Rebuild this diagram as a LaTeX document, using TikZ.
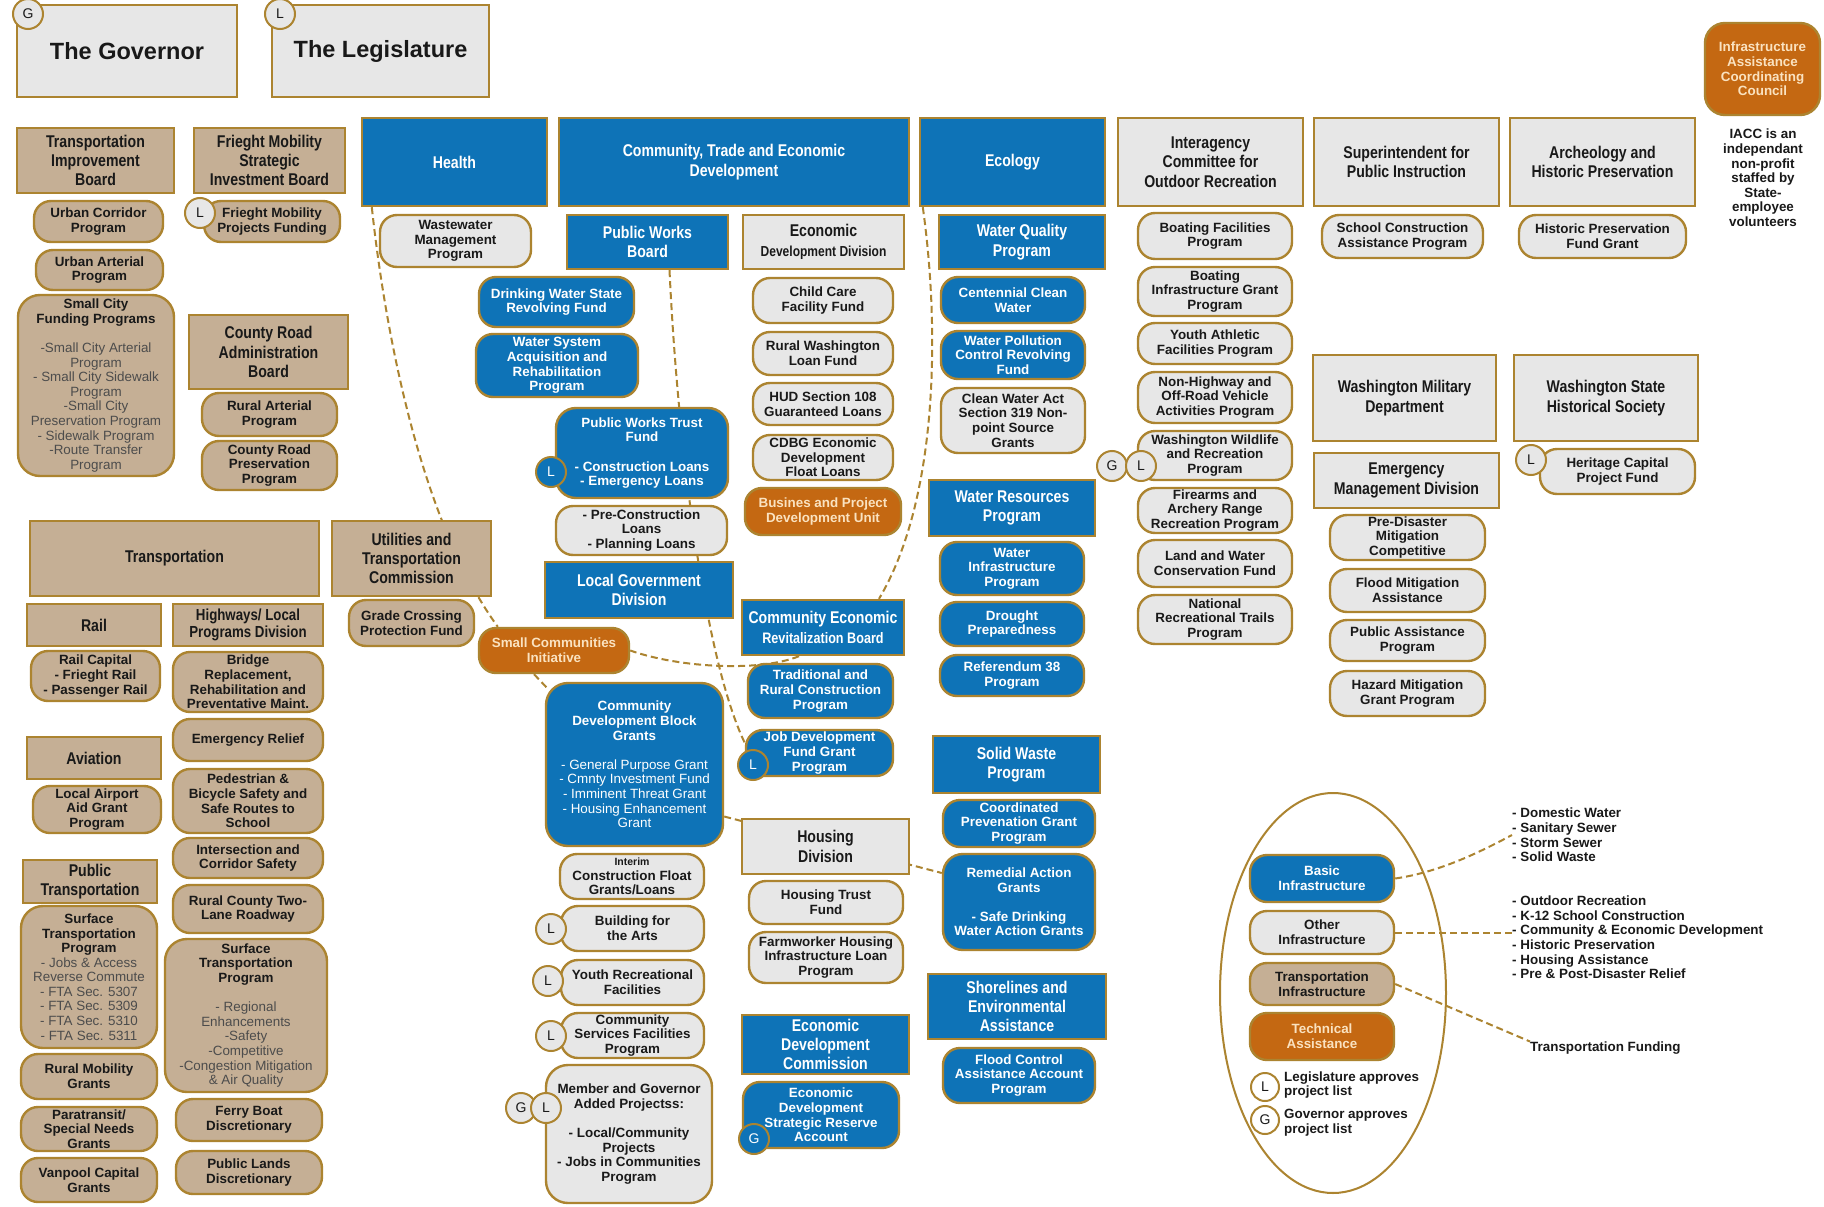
\documentclass[tikz,border=0pt]{standalone}
\usepackage{fontspec}
\setmainfont{Liberation Sans}
\newfontfamily\narrowsans{Liberation Sans}[FakeStretch=0.83]
\usetikzlibrary{backgrounds}
\definecolor{gold}{RGB}{172,132,48}
\definecolor{tan}{RGB}{197,175,149}
\definecolor{lgray}{RGB}{231,231,231}
\definecolor{wablue}{RGB}{14,115,183}
\definecolor{rust}{RGB}{196,104,18}
\definecolor{cream}{RGB}{250,226,192}
\newcommand{\hdrfont}{\narrowsans\bfseries\fontsize{17}{19.4}\selectfont}
\newcommand{\progfont}{\bfseries\fontsize{13.4}{14.6}\selectfont}
\newcommand{\itemfont}{\mdseries\fontsize{13.4}{14.6}\selectfont}
\newcommand{\bigfont}{\bfseries\fontsize{23.5}{26}\selectfont}
\newcommand{\ttl}[1]{{\bfseries\color{black!90}#1}}

\begin{document}
\begin{tikzpicture}[x=1pt, y=-1pt,
    box/.style={rectangle, draw=gold, line width=2.4pt, inner sep=0pt, align=center, text=black!90},
    hdr/.style={box, font=\hdrfont},
    tanhdr/.style={hdr, fill=tan},
    grayhdr/.style={hdr, fill=lgray},
    bluehdr/.style={hdr, fill=wablue, text=white},
    prog/.style={box, rounded corners=17pt, font=\progfont},
    tanprog/.style={prog, fill=tan},
    grayprog/.style={prog, fill=lgray},
    blueprog/.style={prog, fill=wablue, text=white},
    rustprog/.style={prog, fill=rust, text=cream},
    wh/.style 2 args={minimum width=#1pt, minimum height=#2pt},
    circ/.style={circle, draw=gold, fill=lgray, line width=2pt, minimum size=30pt, inner sep=0pt, text=black!90, font=\fontsize{14}{14}\selectfont},
    bcirc/.style={circ, fill=wablue, text=white},
    note/.style={font=\progfont, align=center, inner sep=0pt, text=black!90},
    link/.style={draw=gold, line width=2pt, dash pattern=on 7pt off 4pt}]
    \useasboundingbox (0,0) rectangle (1824,1207);

    % governor and legislature
    \node[grayhdr, wh={220}{92}, font=\bigfont] (gov) at (127,51) {The Governor};
    \node[grayhdr, wh={217}{92}, font=\bigfont] (leg) at (380.5,51) {The Legislature};
    \node[circ] (govG) at (28,14) {G};
    \node[circ] (legL) at (280,14) {L};

    % transportation boards
    \node[tanhdr, wh={157}{65}] (tib) at (95.5,160.5) {Transportation\\Improvement\\Board};
    \node[tanhdr, wh={151}{65}] (fmsib) at (269.5,160.5) {Frieght Mobility\\Strategic\\Investment Board};
    \node[tanprog, wh={129}{41}] (ucp) at (98.5,221.5) {Urban Corridor\\Program};
    \node[tanprog, wh={127}{40}] (uap) at (99.5,270) {Urban Arterial\\Program};
    \node[tanprog, wh={156}{181}, rounded corners=22pt, font=\itemfont, text=black!70] (scfp) at (96,385.5) {\ttl{Small City}\\\ttl{Funding Programs}\\[14.6pt]-Small City Arterial\\Program\\- Small City Sidewalk\\Program\\-Small City\\Preservation Program\\- Sidewalk Program\\-Route Transfer\\Program};
    \node[tanprog, wh={136}{41}] (fmpf) at (272,221.5) {Frieght Mobility\\Projects Funding};
    \node[circ] (fmpfL) at (200,213) {L};
    \node[tanhdr, wh={159}{74}] (crab) at (268.5,352) {County Road\\Administration\\Board};
    \node[tanprog, wh={135}{43}] (rap) at (269.5,414.5) {Rural Arterial\\Program};
    \node[tanprog, wh={135}{49}] (crpp) at (269.5,465.5) {County Road\\Preservation\\Program};

    % transportation
    \node[tanhdr, wh={289}{75}] (trans) at (174.5,558.5) {Transportation};
    \node[tanhdr, wh={159}{75}] (utc) at (411.5,558.5) {Utilities and\\Transportation\\Commission};
    \node[tanprog, wh={125}{46}] (gcpf) at (411.5,623) {Grade Crossing\\Protection Fund};
    \node[tanhdr, wh={134}{42}] (rail) at (94,625) {Rail};
    \node[tanhdr, wh={150}{42}, font=\narrowsans\bfseries\fontsize{16}{17.5}\selectfont] (hlpd) at (248,625) {Highways/ Local\\Programs Division};
    \node[tanprog, wh={129}{50}] (railcap) at (95.5,676) {Rail Capital\\- Frieght Rail\\- Passenger Rail};
    \node[tanprog, wh={150}{60}] (bridge) at (248,682) {Bridge\\Replacement,\\Rehabilitation and\\Preventative Maint.};
    \node[tanprog, wh={150}{42}] (er) at (248,740) {Emergency Relief};
    \node[tanhdr, wh={134}{42}] (aviation) at (94,758) {Aviation};
    \node[tanprog, wh={128}{47}] (laag) at (97,809.5) {Local Airport\\Aid Grant\\Program};
    \node[tanprog, wh={150}{64}] (pbss) at (248,801) {Pedestrian \&\\Bicycle Safety and\\Safe Routes to\\School};
    \node[tanprog, wh={150}{40}] (ics) at (248,858) {Intersection and\\Corridor Safety};
    \node[tanhdr, wh={134}{43}] (pubtrans) at (90,881.5) {Public\\Transportation};
    \node[tanprog, wh={136}{142}, rounded corners=22pt, font=\itemfont, text=black!70] (stp1) at (89,977) {\ttl{Surface}\\\ttl{Transportation}\\\ttl{Program}\\- Jobs \& Access\\Reverse Commute\\- FTA Sec. 5307\\- FTA Sec. 5309\\- FTA Sec. 5310\\- FTA Sec. 5311};
    \node[tanprog, wh={150}{48}] (rctl) at (248,909) {Rural County Two-\\Lane Roadway};
    \node[tanprog, wh={162}{153}, rounded corners=22pt, font=\itemfont, text=black!70] (stp2) at (246,1015.5) {\ttl{Surface}\\\ttl{Transportation}\\\ttl{Program}\\[14.6pt]- Regional\\Enhancements\\-Safety\\-Competitive\\-Congestion Mitigation\\\& Air Quality};
    \node[tanprog, wh={136}{45}] (rmg) at (89,1076.5) {Rural Mobility\\Grants};
    \node[tanprog, wh={146}{42}] (fbd) at (249,1120) {Ferry Boat\\Discretionary};
    \node[tanprog, wh={136}{44}] (psng) at (89,1129) {Paratransit/\\Special Needs\\Grants};
    \node[tanprog, wh={146}{43}] (pld) at (249,1172.5) {Public Lands\\Discretionary};
    \node[tanprog, wh={136}{44}] (vcg) at (89,1180) {Vanpool Capital\\Grants};

    % health
    \node[bluehdr, wh={185}{88}] (health) at (454.5,162) {Health};
    \node[grayprog, wh={151}{52}] (wmp) at (455.5,241) {Wastewater\\Management\\Program};

    % community, trade and economic development
    \node[bluehdr, wh={350}{88}] (cted) at (734,162) {Community, Trade and Economic\\Development};
    \node[bluehdr, wh={161}{54}] (pwb) at (647.5,242) {Public Works\\Board};
    \node[grayhdr, wh={161}{54}] (edd) at (823.5,242) {Economic\\{\fontsize{14.5}{17}\selectfont Development Division}};
    \node[blueprog, wh={155}{50}] (dwsrf) at (556.5,302) {Drinking Water State\\Revolving Fund};
    \node[blueprog, wh={162}{63}] (wsarp) at (557,365.5) {Water System\\Acquisition and\\Rehabilitation\\Program};
    \node[blueprog, wh={172}{90}, rounded corners=20pt] (pwtf) at (642,453) {Public Works Trust\\Fund\\[14.6pt]- Construction Loans\\- Emergency Loans};
    \node[bcirc] (pwtfL) at (551,472) {L};
    \node[grayprog, wh={171}{49}] (pcl) at (641.5,530.5) {- Pre-Construction\\Loans\\- Planning Loans};
    \node[bluehdr, wh={188}{56}] (lgd) at (639,590) {Local Government\\Division};
    \node[rustprog, wh={150}{45}] (sci) at (554,650.5) {Small Communities\\Initiative};
    \node[blueprog, wh={177}{163}, rounded corners=22pt, font=\itemfont] (cdbg) at (634.5,764.5) {\textbf{Community}\\\textbf{Development Block}\\\textbf{Grants}\\[14.6pt]- General Purpose Grant\\- Cmnty Investment Fund\\- Imminent Threat Grant\\- Housing Enhancement\\Grant};
    \node[grayprog, wh={144}{45}] (icfgl) at (632,876.5) {{\fontsize{10.5}{12}\selectfont Interim}\\Construction Float\\Grants/Loans};
    \node[grayprog, wh={143}{45}] (bfa) at (632.5,928.5) {Building for\\the Arts};
    \node[circ] (bfaL) at (551,929) {L};
    \node[grayprog, wh={143}{45}] (yrf) at (632.5,982.5) {Youth Recreational\\Facilities};
    \node[circ] (yrfL) at (548,981) {L};
    \node[grayprog, wh={143}{45}] (csfp) at (632.5,1035.5) {Community\\Services Facilities\\Program};
    \node[circ] (csfpL) at (551,1036) {L};
    \node[grayprog, wh={166}{138}, rounded corners=22pt] (mgap) at (629,1134) {Member and Governor\\Added Projectss:\\[14.6pt]- Local/Community\\Projects\\- Jobs in Communities\\Program};
    \node[circ] (mgapG) at (521,1108) {G};
    \node[circ] (mgapL) at (546,1108) {L};

    \node[grayprog, wh={140}{45}] (ccff) at (823,300.5) {Child Care\\Facility Fund};
    \node[grayprog, wh={140}{43}] (rwlf) at (823,353.5) {Rural Washington\\Loan Fund};
    \node[grayprog, wh={140}{42}] (hud) at (823,404) {HUD Section 108\\Guaranteed Loans};
    \node[grayprog, wh={140}{45}] (cdbgefl) at (823,457.5) {CDBG Economic\\Development\\Float Loans};
    \node[rustprog, wh={156}{47}] (bpdu) at (823,511.5) {Busines and Project\\Development Unit};
    \node[bluehdr, wh={162}{55}] (cerb) at (823,627.5) {Community Economic\\{\fontsize{15.2}{17}\selectfont Revitalization Board}};
    \node[blueprog, wh={145}{54}] (trcp) at (820.5,691) {Traditional and\\Rural Construction\\Program};
    \node[blueprog, wh={147}{46}] (jdf) at (819.5,753) {Job Development\\Fund Grant\\Program};
    \node[bcirc] (jdfL) at (753,765) {L};
    \node[grayhdr, wh={167}{55}] (housing) at (825.5,846.5) {Housing\\Division};
    \node[grayprog, wh={154}{43}] (htf) at (826,902.5) {Housing Trust\\Fund};
    \node[grayprog, wh={154}{51}] (fhilp) at (826,957.5) {Farmworker Housing\\Infrastructure Loan\\Program};
    \node[bluehdr, wh={167}{59}] (edc) at (825.5,1044.5) {Economic\\Development\\Commission};
    \node[blueprog, wh={156}{66}] (edsra) at (821,1115) {Economic\\Development\\Strategic Reserve\\Account};
    \node[bcirc] (edsraG) at (754,1139) {G};

    % ecology
    \node[bluehdr, wh={185}{88}] (ecology) at (1012.5,162) {Ecology};
    \node[bluehdr, wh={166}{54}] (wqp) at (1022,242) {Water Quality\\Program};
    \node[blueprog, wh={144}{46}] (ccw) at (1013,300) {Centennial Clean\\Water};
    \node[blueprog, wh={144}{48}] (wpcrf) at (1013,355) {Water Pollution\\Control Revolving\\Fund};
    \node[grayprog, wh={144}{65}] (cwa) at (1013,420.5) {Clean Water Act\\Section 319 Non-\\point Source\\Grants};
    \node[bluehdr, wh={166}{56}] (wrp) at (1012,508) {Water Resources\\Program};
    \node[blueprog, wh={144}{53}] (wip) at (1012,568.5) {Water\\Infrastructure\\Program};
    \node[blueprog, wh={144}{44}] (dp) at (1012,624) {Drought\\Preparedness};
    \node[blueprog, wh={144}{41}] (r38) at (1012,675.5) {Referendum 38\\Program};
    \node[bluehdr, wh={167}{57}] (swp) at (1016.5,764.5) {Solid Waste\\Program};
    \node[blueprog, wh={152}{47}] (cpgp) at (1019,823.5) {Coordinated\\Prevenation Grant\\Program};
    \node[blueprog, wh={152}{96}, rounded corners=20pt] (rag) at (1019,902) {Remedial Action\\Grants\\[14.6pt]- Safe Drinking\\Water Action Grants};
    \node[bluehdr, wh={178}{65}] (sea) at (1017,1006.5) {Shorelines and\\Environmental\\Assistance};
    \node[blueprog, wh={152}{55}] (fcaap) at (1019,1075.5) {Flood Control\\Assistance Account\\Program};

    % outdoor recreation
    \node[grayhdr, wh={185}{88}] (icor) at (1210.5,162) {Interagency\\Committee for\\Outdoor Recreation};
    \foreach \nm/\y/\hh/\txt in {
        bfp/236/46/{Boating Facilities\\Program},
        bigp/291.5/49/{Boating\\Infrastructure Grant\\Program},
        yafp/343.5/41/{Youth Athletic\\Facilities Program},
        nhorv/397.5/51/{Non-Highway and\\Off-Road Vehicle\\Activities Program},
        wwrp/455.5/49/{Washington Wildlife\\and Recreation\\Program},
        farrp/510.5/45/{Firearms and\\Archery Range\\Recreation Program},
        lwcf/563.5/47/{Land and Water\\Conservation Fund},
        nrtp/619.5/49/{National\\Recreational Trails\\Program}} {
        \node[grayprog, wh={154}{\hh}] (\nm) at (1215,\y) {\txt};
    }
    \node[circ] (wwrpG) at (1112,466) {G};
    \node[circ] (wwrpL) at (1141,466) {L};

    % public instruction, military
    \node[grayhdr, wh={185}{88}] (spi) at (1406.5,162) {Superintendent for\\Public Instruction};
    \node[grayprog, wh={161}{43}] (scap) at (1402.5,236.5) {School Construction\\Assistance Program};
    \node[grayhdr, wh={183}{86}] (wmd) at (1404.5,398) {Washington Military\\Department};
    \node[grayhdr, wh={185}{55}] (emd) at (1406.5,480.5) {Emergency\\Management Division};
    \foreach \nm/\y/\hh/\txt in {
        pdmc/537.5/45/{Pre-Disaster\\Mitigation\\Competitive},
        fma/590.5/43/{Flood Mitigation\\Assistance},
        pap/640.5/41/{Public Assistance\\Program},
        hmgp/693.5/45/{Hazard Mitigation\\Grant Program}} {
        \node[grayprog, wh={155}{\hh}] (\nm) at (1407.5,\y) {\txt};
    }

    % historic preservation
    \node[grayhdr, wh={185}{88}] (ahp) at (1602.5,162) {Archeology and\\Historic Preservation};
    \node[grayprog, wh={167}{43}] (hpfg) at (1602.5,236.5) {Historic Preservation\\Fund Grant};
    \node[grayhdr, wh={184}{86}] (wshs) at (1606,398) {Washington State\\Historical Society};
    \node[grayprog, wh={155}{45}] (hcpf) at (1617.5,471.5) {Heritage Capital\\Project Fund};
    \node[circ] (hcpfL) at (1531,460) {L};

    % iacc
    \node[rustprog, wh={115}{92}, rounded corners=20pt] (iacc) at (1762.5,69) {Infrastructure\\Assistance\\Coordinating\\Council};
    \node[note] (iaccnote) at (1763,178) {IACC is an\\independant\\non-profit\\staffed by\\State-\\employee\\volunteers};

    % key
    \draw[gold, line width=2pt] (1333,993) ellipse [x radius=113, y radius=200];
    \node[blueprog, wh={144}{47}] (basic) at (1322,878.5) {Basic\\Infrastructure};
    \node[grayprog, wh={144}{43}] (other) at (1322,932.5) {Other\\Infrastructure};
    \node[tanprog, wh={144}{42}] (tinfra) at (1322,984) {Transportation\\Infrastructure};
    \node[rustprog, wh={144}{47}] (tech) at (1322,1036.5) {Technical\\Assistance};
    \node[circ, fill=white, minimum size=28pt] (keyL) at (1265,1087) {L};
    \node[note, anchor=west, align=left] (keyLtxt) at (1284,1085) {Legislature approves\\project list};
    \node[circ, fill=white, minimum size=28pt] (keyG) at (1265,1120) {G};
    \node[note, anchor=west, align=left] (keyGtxt) at (1284,1123) {Governor approves\\project list};
    \node[note, anchor=west, align=left] (list1) at (1512,835) {- Domestic Water\\- Sanitary Sewer\\- Storm Sewer\\- Solid Waste};
    \node[note, anchor=west, align=left] (list2) at (1512,937.5) {- Outdoor Recreation\\- K-12 School Construction\\- Community \& Economic Development\\- Historic Preservation\\- Housing Assistance\\- Pre \& Post-Disaster Relief};
    \node[note, anchor=west] (list3) at (1530,1048) {Transportation Funding};

    \begin{pgfonlayer}{background}
        \fill[white] (0,0) rectangle (1824,1207);
        \draw[link] ([xshift=11pt]health.south west) .. controls (385,330) and (420,520) .. ([xshift=20pt]sci.north west);
        \draw[link] ([xshift=22pt]pwb.south) .. controls (678,450) and (705,660) .. ([yshift=10pt]jdf.west);
        \draw[link] ([xshift=4pt]ecology.south west) .. controls (940,330) and (938,500) .. ([xshift=56pt]cerb.north);
        \draw[link] ([xshift=-24pt]cerb.south) .. controls (760,672) and (680,668) .. (sci.east);
        \draw[link] ([xshift=-20pt]sci.south) -- ([xshift=4pt, yshift=-8pt]cdbg.north west);
        \draw[link] ([yshift=-52pt]cdbg.east) -- ([yshift=29pt]rag.west);
        \draw[link] (basic.east) .. controls (1440,872) and (1480,852) .. (list1.west);
        \draw[link] (other.east) -- (other.east -| list2.west);
        \draw[link] (tinfra.east) -- (list3.north west);
    \end{pgfonlayer}
\end{tikzpicture}
\end{document}
